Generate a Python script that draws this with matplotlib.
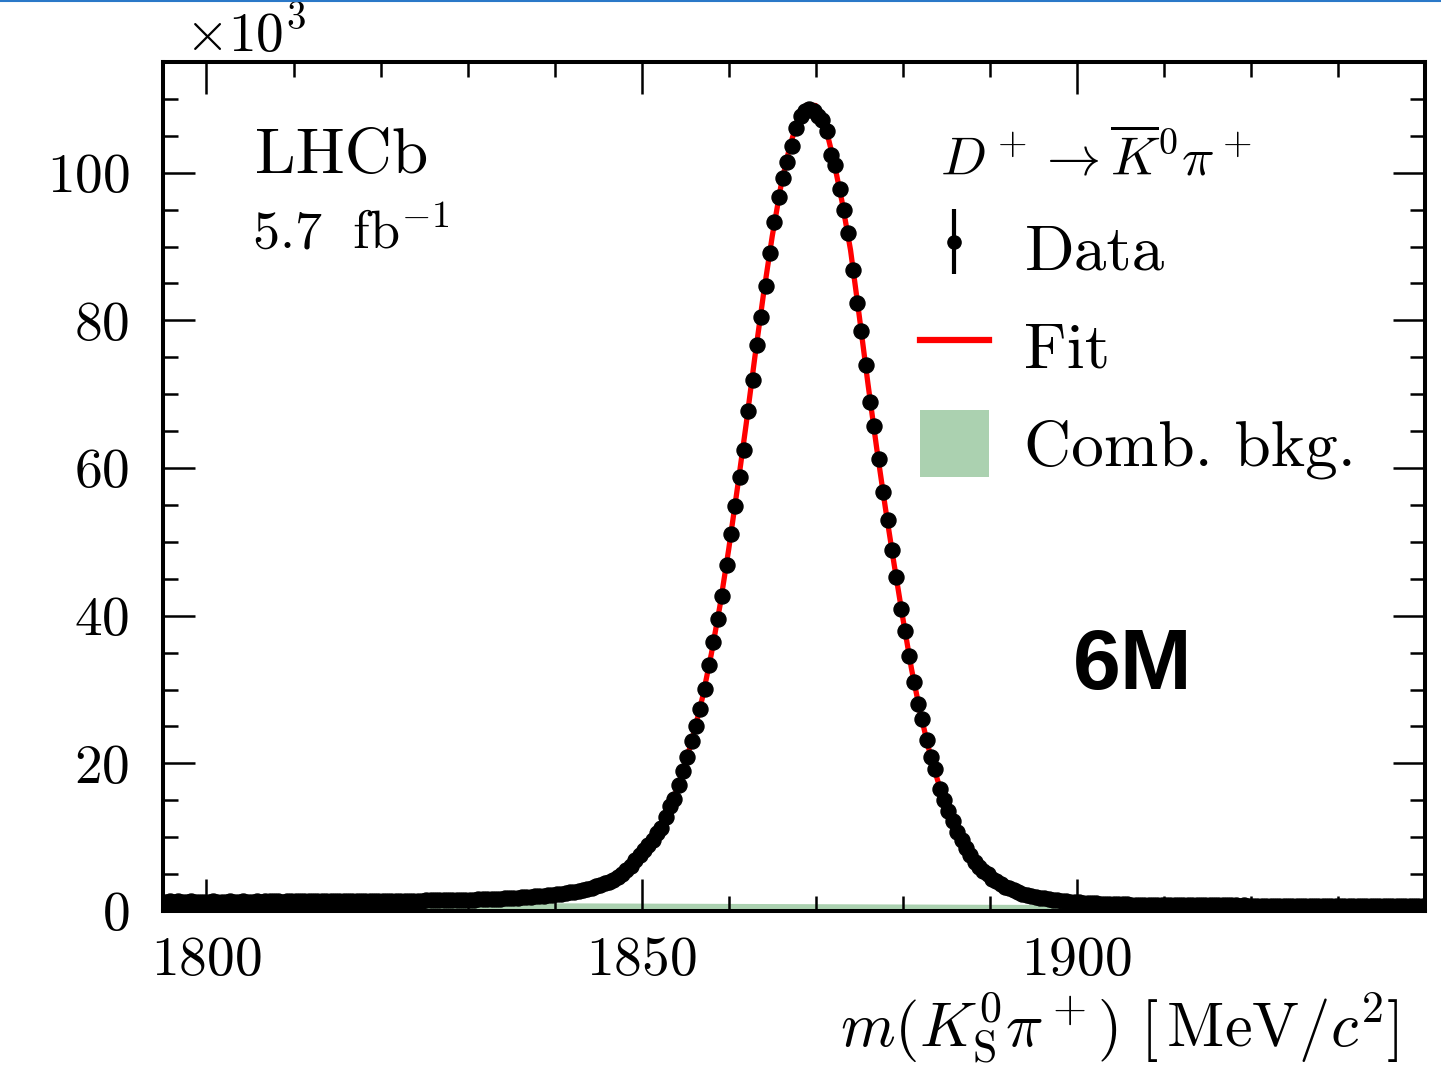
import numpy as np
import matplotlib
matplotlib.use("Agg")
import matplotlib.pyplot as plt
from matplotlib.lines import Line2D
from matplotlib.patches import Patch

plt.rcParams['font.family'] = 'serif'
plt.rcParams['font.serif'] = ['cmr10']
plt.rcParams['mathtext.fontset'] = 'cm'
plt.rcParams['axes.formatter.use_mathtext'] = True

# data, counts per 0.5 MeV bin in units of 10^3
bin_lo = 1795.0
bin_w = 0.5
data = [
    1.28, 1.30, 1.27, 1.29, 1.26, 1.28, 1.29, 1.27, 1.28, 1.26,
    1.27, 1.29, 1.28, 1.26, 1.28, 1.30, 1.27, 1.28, 1.29, 1.27,
    1.28, 1.30, 1.28, 1.29, 1.31, 1.29, 1.30, 1.28, 1.31, 1.30,
    1.31, 1.29, 1.32, 1.31, 1.30, 1.32, 1.31, 1.33, 1.32, 1.31,
    1.33, 1.32, 1.34, 1.33, 1.35, 1.34, 1.33, 1.36, 1.35, 1.37,
    1.36, 1.38, 1.37, 1.39, 1.38, 1.40, 1.39, 1.41, 1.42, 1.41,
    1.43, 1.44, 1.43, 1.45, 1.46, 1.47, 1.48, 1.47, 1.49, 1.50,
    1.52, 1.54, 1.56, 1.58, 1.60, 1.62, 1.65, 1.68, 1.70, 1.73,
    1.76, 1.80, 1.84, 1.88, 1.92, 1.97, 2.02, 2.07, 2.13, 2.18,
    2.25, 2.34, 2.43, 2.53, 2.63, 2.75, 2.87, 3.00, 3.15, 3.32,
    3.52, 3.73, 3.96, 4.24, 4.55, 4.95, 5.50, 6.15, 6.85, 7.60,
    8.25, 8.90, 9.60, 10.5, 11.3, 12.8, 14.2, 15.2, 17.1, 19.0,
    20.8, 23.0, 25.1, 27.4, 30.1, 33.3, 36.5, 39.6, 42.7, 46.8,
    51.1, 54.9, 58.8, 62.5, 67.7, 71.9, 76.7, 80.5, 84.7, 89.1,
    93.3, 96.7, 99.3, 101.5, 103.6, 106.0, 107.7, 108.4, 108.7, 108.4,
    107.7, 107.1, 105.6, 102.4, 101.1, 97.8, 95.0, 91.9, 86.8, 82.3,
    78.5, 74.0, 69.0, 65.7, 61.2, 56.7, 52.9, 48.9, 45.3, 40.9,
    37.9, 34.6, 31.0, 28.1, 26.0, 23.2, 20.8, 19.2, 16.5, 15.0,
    13.6, 12.2, 10.7, 9.6, 8.5, 7.6, 6.7, 5.9, 5.45, 4.95,
    4.40, 4.00, 3.65, 3.30, 3.05, 2.80, 2.57, 2.37, 2.20, 2.05,
    1.92, 1.80, 1.70, 1.61, 1.53, 1.45, 1.38, 1.32, 1.27, 1.22,
    1.17, 1.13, 1.10, 1.07, 1.04, 1.01, 0.99, 0.97, 0.95, 0.93,
    0.90, 0.89, 0.88, 0.87, 0.86, 0.85, 0.84, 0.84, 0.83, 0.82,
    0.82, 0.81, 0.81, 0.80, 0.79, 0.80, 0.79, 0.78, 0.78, 0.77,
    0.77, 0.76, 0.77, 0.76, 0.75, 0.76, 0.75, 0.74, 0.75, 0.74,
    0.74, 0.73, 0.74, 0.73, 0.72, 0.73, 0.72, 0.72, 0.71, 0.72,
    0.71, 0.71, 0.70, 0.71, 0.70, 0.69, 0.70, 0.69, 0.69, 0.68,
    0.69, 0.68, 0.68, 0.67, 0.68, 0.67, 0.67, 0.66, 0.67, 0.66,
    0.66, 0.65, 0.66, 0.65, 0.65, 0.64, 0.65, 0.64, 0.64, 0.63,
]

# fit curve, one value per MeV from 1795 to 1940
fit_x = list(range(1795, 1941))
fit = [
    1.28, 1.28, 1.28, 1.28, 1.28, 1.28, 1.28, 1.29, 1.29, 1.29,
    1.29, 1.29, 1.30, 1.30, 1.30, 1.31, 1.31, 1.31, 1.32, 1.32,
    1.33, 1.33, 1.34, 1.35, 1.35, 1.36, 1.37, 1.38, 1.39, 1.40,
    1.41, 1.43, 1.44, 1.46, 1.48,
    1.51, 1.55, 1.59, 1.63, 1.68, 1.74, 1.82, 1.90, 1.99, 2.09,
    2.20, 2.37, 2.57, 2.80, 3.08, 3.42, 3.85, 4.40, 5.20, 6.50,
    8.0, 9.3, 11.0, 13.4, 16.3, 19.9, 24.1, 29.0, 34.8, 41.4,
    49.0, 57.3, 65.9, 75.0, 83.6, 91.4, 98.2, 103.5, 107.4, 109.2,
    109.1, 106.8, 102.0, 96.2, 89.5, 80.6, 71.4, 62.7, 54.6, 47.0,
    39.7, 32.8, 26.9, 21.9, 17.7, 14.3, 11.5, 9.2, 7.3, 5.8,
    4.65, 3.80, 3.15, 2.65, 2.27, 1.98, 1.75, 1.57, 1.42, 1.30,
    1.20, 1.12, 1.06, 1.01, 0.97, 0.94, 0.91, 0.88, 0.86, 0.84,
    0.82, 0.81, 0.80, 0.79, 0.78, 0.77, 0.76, 0.76, 0.75, 0.74,
    0.74, 0.73, 0.72, 0.72, 0.71, 0.71, 0.70, 0.70, 0.69, 0.69,
    0.68, 0.68, 0.67, 0.67, 0.66, 0.66, 0.66, 0.65, 0.65, 0.64,
    0.64,
]

# combinatorial background, every 5 MeV
bkg_x = list(range(1795, 1941, 5))
bkg = [1.30, 1.28, 1.26, 1.24, 1.22, 1.19, 1.17, 1.15, 1.13, 1.11,
       1.09, 1.07, 1.05, 1.03, 1.01, 0.99, 0.97, 0.95, 0.93, 0.91,
       0.89, 0.87, 0.85, 0.83, 0.81, 0.79, 0.77, 0.75, 0.73, 0.71]

x = bin_lo + bin_w * (np.arange(len(data)) + 0.5)
y = np.array(data)
yerr = np.sqrt(y * 1000) / 1000

H = 1069
fig = plt.figure(figsize=(14.41, 10.69), dpi=100)
ax = fig.add_axes([0.1131, 0.1478, 0.8758, 0.7942])

ax.fill_between(bkg_x, 0, bkg, color='#abd1b0', lw=0, zorder=1)
ax.plot(fit_x, fit, color='#ff0000', lw=3.8, zorder=2)
ax.errorbar(x, y, yerr=yerr, fmt='o', color='k', ms=10.8, elinewidth=2, capsize=0, zorder=3)

ax.set_xlim(1795, 1940)
ax.set_ylim(0, 115)
ax.set_xticks([1800, 1850, 1900])
ax.set_xticks(np.arange(1800, 1941, 10), minor=True)
ax.set_yticks([0, 20, 40, 60, 80, 100])
ax.set_yticks(np.arange(0, 116, 5), minor=True)
ax.tick_params(which='both', direction='in', top=True, right=True, labelsize=40, width=1.8)
ax.tick_params(which='major', length=23)
ax.tick_params(which='minor', length=11)
ax.tick_params(axis='y', pad=24)
ax.tick_params(axis='x', pad=18)
for s in ax.spines.values():
    s.set_linewidth(2.9)

ax.set_xlabel(r'$m(K^0_{\rm S}\pi^+)\ [\,\mathrm{MeV}/c^2]$', fontsize=45, loc='right')
ax.xaxis.set_label_coords(0.979, -0.093)

ax.text(185, H - 52, r'$\times10^3$', transform=None, fontsize=40, ha='left', va='baseline')
ax.text(255, H - 173, 'LHCb', transform=None, fontsize=47, ha='left', va='baseline')
ax.text(252, H - 248, r'$5.7\ \ \mathrm{fb}^{-1}$', transform=None, fontsize=39, ha='left', va='baseline')
ax.text(1133, H - 667, '6M', transform=None, fontsize=62, fontweight='bold',
        family='Liberation Sans', ha='center', va='center')

ax.text(940, H - 175, r'$D^+ \rightarrow \overline{K}^0\pi^+$', transform=None, fontsize=39,
        ha='left', va='baseline')

h_data = ax.errorbar([], [], yerr=[], fmt='o', color='k', ms=9.5, elinewidth=3, capsize=0)
h_fit = Line2D([], [], color='#ff0000', lw=4.5)
h_bkg = Patch(color='#abd1b0', lw=0)
leg = ax.legend([h_data, h_fit, h_bkg], ['Data', 'Fit', 'Comb. bkg.'],
                loc='upper left', bbox_to_anchor=(920 / 1441, 1 - 214 / H),
                bbox_transform=fig.transFigure, frameon=False, fontsize=47,
                handlelength=1.05, handleheight=1.2, handletextpad=0.55,
                labelspacing=0.45, borderpad=0, borderaxespad=0)

fig.add_artist(Line2D([0, 1], [0.9993, 0.9993], color='#2a78c8', lw=1.5))

fig.savefig('out.png', dpi=100)
